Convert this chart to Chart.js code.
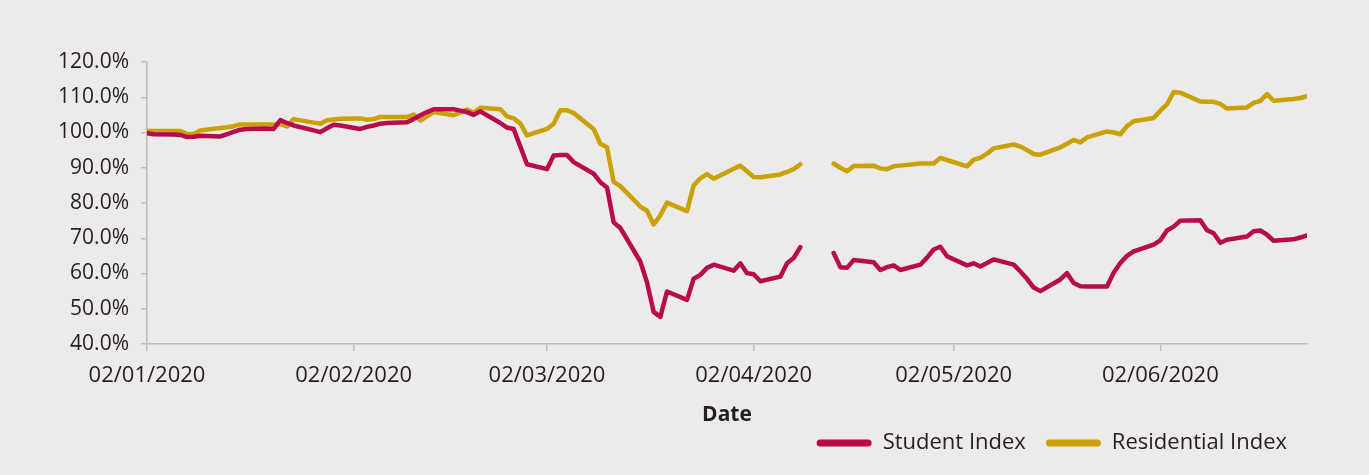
<!DOCTYPE html>
<html>
<head>
<meta charset="utf-8">
<script src="https://cdn.jsdelivr.net/npm/chart.js@4.4.1/dist/chart.umd.min.js"></script>
<style>
  html, body { margin: 0; padding: 0; background: #ecebe9; }
  #wrap { width: 1369px; height: 475px; }
</style>
</head>
<body>
<div id="wrap"><canvas id="indexChart"></canvas></div>
<script>
// trading days only; Easter Friday/Monday have no figures (null)
const startDate = '2020-01-02';
const endDate = '2020-06-24';

const tickLabels = ['02/01/2020', '02/02/2020', '02/03/2020', '02/04/2020', '02/05/2020', '02/06/2020'];

const studentIndex = [
  // Jan
  99.8, 99.5, 99.4, 99.3, 98.7, 98.8, 99.1, 98.9, 99.5, 100.2, 100.8, 101.0, 101.1, 101.0, 103.5, 102.7, 102.0, 100.6, 100.1, 101.2, 102.2, 102.0,
  // Feb
  101.0, 101.6, 102.0, 102.5, 102.7, 102.9, 103.8, 104.9, 105.8, 106.6, 106.6, 106.2, 105.8, 105.0, 106.0, 102.7, 101.4, 101.0, 96.0, 91.0,
  // Mar
  89.6, 93.5, 93.6, 93.6, 91.6, 88.3, 85.9, 84.4, 74.5, 72.9, 63.4, 57.5, 49.1, 47.7, 54.9, 52.5, 58.5, 59.6, 61.6, 62.5, 60.8, 62.9,
  // Apr
  60.1, 59.8, 57.8, 59.1, 62.9, 64.4, 67.5, null, null, 65.8, 61.8, 61.6, 63.8, 63.2, 61.0, 61.8, 62.3, 61.0, 62.5, 64.5, 66.8, 67.6,
  // May
  64.9, 62.3, 62.9, 62.0, 63.0, 64.0, 62.5, 60.6, 58.5, 56.0, 55.0, 58.3, 60.1, 57.3, 56.4, 56.3, 56.3, 60.2, 63.0, 65.0, 66.3,
  // Jun
  68.2, 69.4, 72.2, 73.3, 75.0, 75.1, 72.3, 71.4, 68.7, 69.6, 70.5, 72.0, 72.2, 71.0, 69.3, 69.7, 70.2, 70.8
];

const residentialIndex = [
  // Jan
  100.4, 100.4, 100.4, 100.4, 99.6, 99.6, 100.6, 101.3, 101.5, 101.8, 102.3, 102.3, 102.3, 102.3, 102.4, 101.7, 103.8, 102.8, 102.5, 103.5, 103.7, 103.9,
  // Feb
  104.0, 103.6, 103.8, 104.4, 104.4, 104.4, 105.1, 103.4, 104.6, 105.8, 104.9, 105.7, 106.5, 105.6, 107.0, 106.6, 104.6, 104.0, 102.6, 99.2,
  // Mar
  101.0, 102.5, 106.3, 106.3, 105.5, 101.0, 96.8, 95.8, 86.0, 84.8, 79.0, 77.8, 73.9, 76.5, 80.1, 77.7, 85.0, 87.0, 88.2, 86.9, 89.7, 90.6,
  // Apr
  89.0, 87.4, 87.3, 88.1, 88.8, 89.6, 91.0, null, null, 91.2, 90.0, 89.0, 90.5, 90.6, 89.8, 89.6, 90.4, 90.6, 91.2, 91.2, 91.2, 92.8,
  // May
  92.2, 90.4, 92.3, 92.8, 94.0, 95.5, 96.6, 96.0, 95.0, 93.9, 93.7, 95.8, 96.8, 97.9, 97.2, 98.6, 100.3, 100.0, 99.5, 101.8, 103.2,
  // Jun
  104.1, 106.2, 108.0, 111.5, 111.3, 108.8, 108.7, 108.7, 108.1, 106.8, 107.1, 108.4, 109.0, 110.9, 109.0, 109.5, 109.8, 110.3
];

const DAY = 86400000;
const dayOf = iso => (Date.parse(iso) - Date.parse(startDate)) / DAY;
const fromLabel = s => { const [d, m, y] = s.split('/'); return `${y}-${m}-${d}`; };

// Mon-Fri calendar between the first and last date
const tradingDays = [];
for (let t = Date.parse(startDate); t <= Date.parse(endDate); t += DAY) {
  const wd = new Date(t).getUTCDay();
  if (wd !== 0 && wd !== 6) tradingDays.push(new Date(t).toISOString().slice(0, 10));
}

const toPoints = vals => tradingDays.map((d, i) => ({ x: dayOf(d), y: vals[i] }));
const tickDays = tickLabels.map(l => dayOf(fromLabel(l)));

const FONT = "'Open Sans', sans-serif";
const TEXT = '#231f20';
const AXIS = '#bdbdbd';

new Chart(document.getElementById('indexChart'), {
  type: 'line',
  data: {
    datasets: [
      {
        label: 'Student Index',
        data: toPoints(studentIndex),
        borderColor: '#b80b4d',
        backgroundColor: '#b80b4d',
        borderWidth: 4.5
      },
      {
        label: 'Residential Index',
        data: toPoints(residentialIndex),
        borderColor: '#c9a100',
        backgroundColor: '#c9a100',
        borderWidth: 4.5
      }
    ]
  },
  options: {
    responsive: true,
    maintainAspectRatio: false,
    animation: false,
    spanGaps: false,
    layout: { padding: { top: 62, right: 62, bottom: 11, left: 0 } },
    elements: {
      point: { radius: 0, hoverRadius: 0 },
      line: { tension: 0, fill: false, borderJoinStyle: 'round', borderCapStyle: 'round' }
    },
    scales: {
      x: {
        type: 'linear',
        min: 0,
        max: dayOf(endDate),
        afterBuildTicks: s => { s.ticks = tickDays.map(v => ({ value: v })); },
        // legend sits tight under the axis title
        afterFit: s => { s.height = 68; },
        ticks: {
          autoSkip: false,
          maxRotation: 0,
          padding: 12,
          color: TEXT,
          font: { family: FONT, size: 22 },
          callback: (v, i) => tickLabels[i]
        },
        grid: { drawOnChartArea: false, tickLength: 7, color: AXIS, lineWidth: 1.5 },
        border: { color: AXIS, width: 1.5 },
        title: {
          display: true,
          text: 'Date',
          color: TEXT,
          font: { family: FONT, size: 21, weight: 'bold' },
          padding: { top: 0, bottom: -16 }
        }
      },
      y: {
        min: 40,
        max: 120,
        afterFit: s => { s.width = 147; },
        ticks: {
          stepSize: 10,
          padding: 12,
          color: TEXT,
          font: { family: FONT, size: 21 },
          callback: v => v.toFixed(1) + '%'
        },
        grid: { drawOnChartArea: false, tickLength: 6, color: AXIS, lineWidth: 1.5 },
        border: { color: AXIS, width: 1.5 }
      }
    },
    plugins: {
      tooltip: { enabled: false },
      legend: {
        position: 'bottom',
        align: 'end',
        labels: {
          boxWidth: 55,
          boxHeight: 7,
          useBorderRadius: true,
          borderRadius: 3.5,
          padding: 20,
          color: TEXT,
          font: { family: FONT, size: 22 },
          generateLabels: chart =>
            Chart.defaults.plugins.legend.labels.generateLabels(chart).map(it => ({ ...it, lineWidth: 0 }))
        }
      }
    }
  }
});
</script>
</body>
</html>
